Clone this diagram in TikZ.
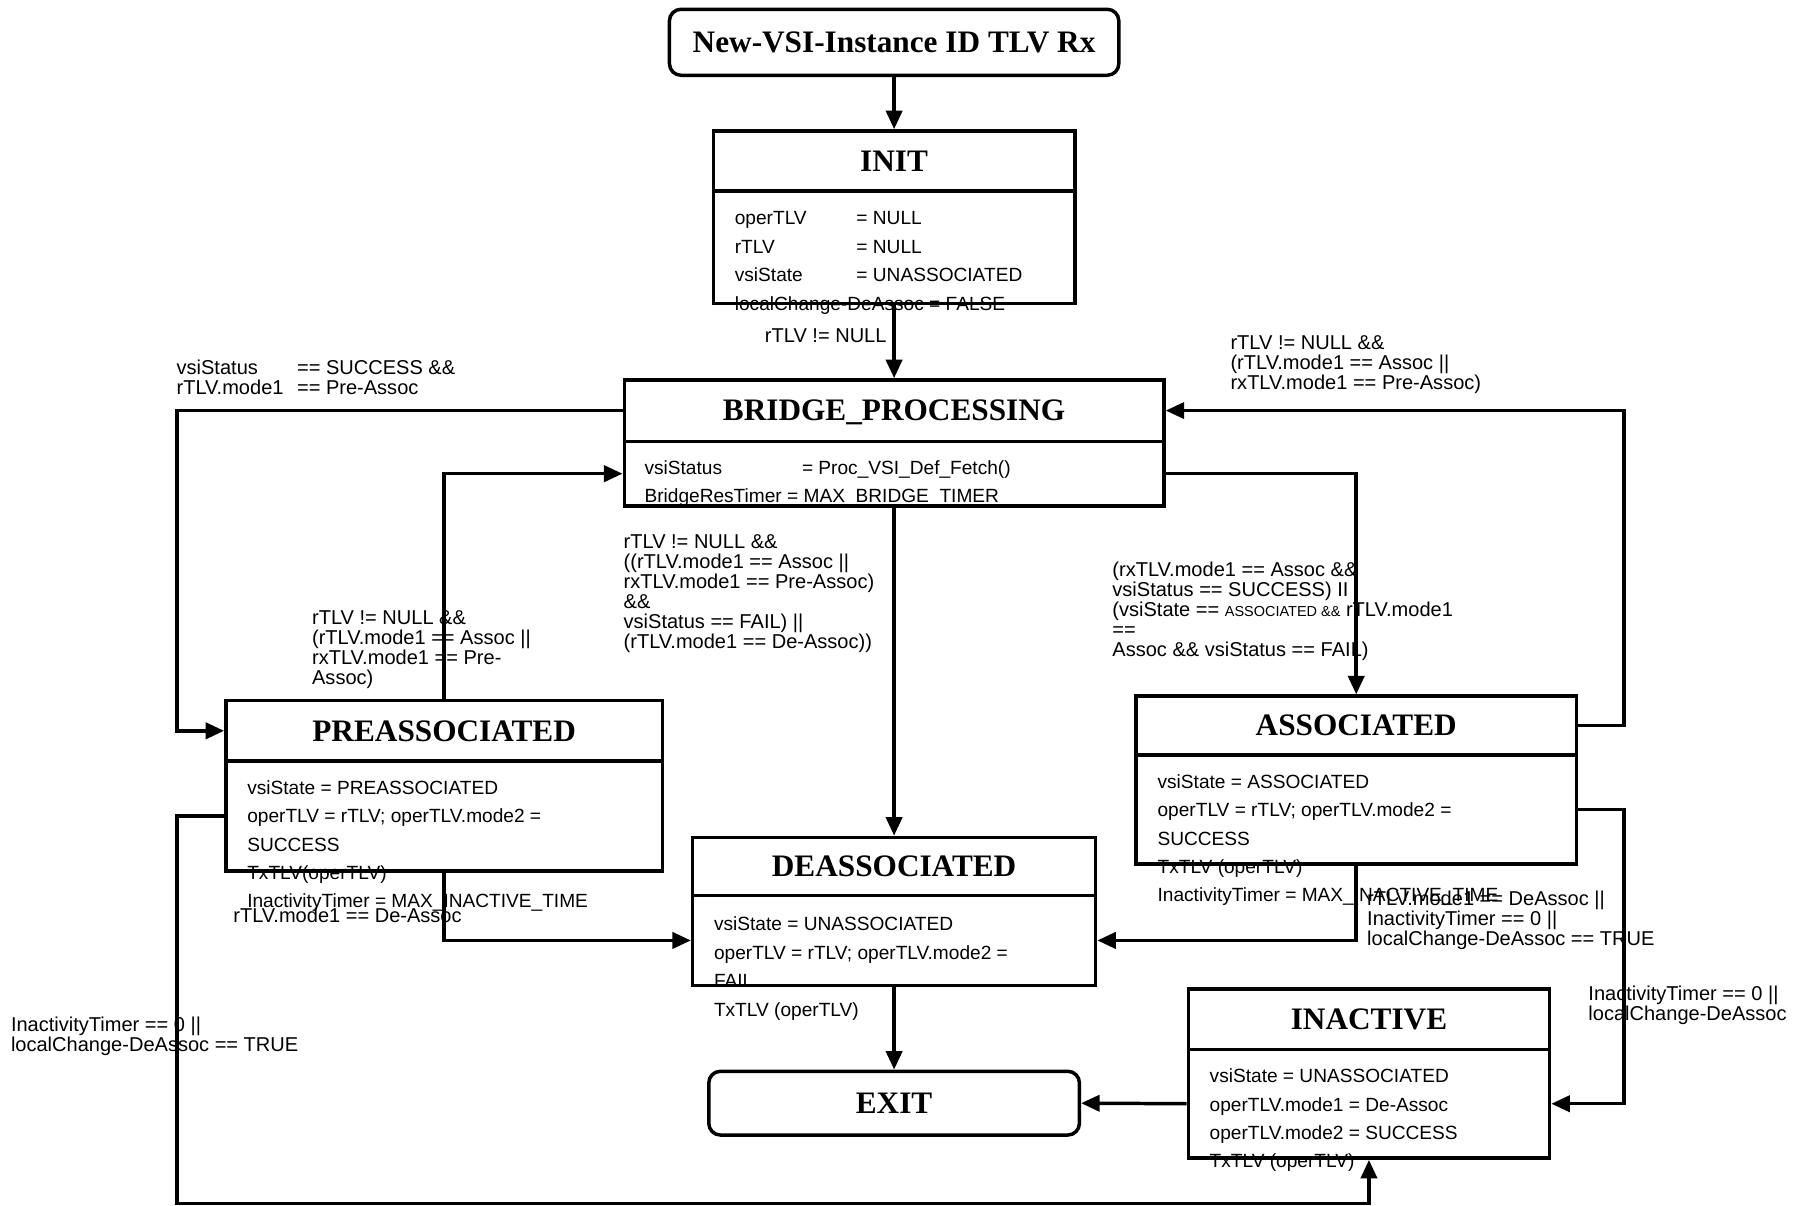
\documentclass[tikz,border=0pt]{standalone}
\usepackage{fontspec}
\setmainfont{Liberation Serif}
\setsansfont{Liberation Sans}
\usetikzlibrary{positioning,arrows.meta}
\newcommand{\pad}[2]{\makebox[#1][l]{#2}}

\begin{document}
\begin{tikzpicture}
	[x=1pt,y=-1pt,line width=3pt,
	every node/.style={inner sep=0pt},
	statebox/.style={draw,font=\fontsize{27}{27}\selectfont\bfseries,text depth=0pt},
	startbox/.style={statebox,rounded corners=10pt},
	vars/.style={anchor=north west,yshift=12.65pt,align=left,font=\sffamily\fontsize{16.5}{24.5}\selectfont,execute at begin node=\strut},
	guard/.style={anchor=north west,yshift=12.11pt,align=left,font=\sffamily\fontsize{17.3}{17.3}\selectfont,execute at begin node=\strut},
	trans/.style={draw,-{Triangle[length=16pt,width=14pt]}}]
	\useasboundingbox[fill=white] (0,0) rectangle (1568,1041);

	% states
	\node[startbox,minimum width=388pt,minimum height=57pt] (start) at (772,36.5) {New-VSI-Instance ID TLV Rx};
	\node[statebox,minimum width=312pt,minimum height=52pt] (init) at (772,139) {INIT};
	\node[draw,minimum width=312pt,minimum height=97pt,below=-3pt of init] (initbody) {};
	\node[statebox,minimum width=466pt,minimum height=53pt] (bridge) at (772,354.5) {BRIDGE\_PROCESSING};
	\node[draw,minimum width=466pt,minimum height=56pt,below=-3pt of bridge] (bridgebody) {};
	\node[statebox,minimum width=377pt,minimum height=52pt] (preassoc) at (383.5,631) {PREASSOCIATED};
	\node[draw,minimum width=377pt,minimum height=95pt,below=-3pt of preassoc] (preassocbody) {};
	\node[statebox,minimum width=380pt,minimum height=51pt] (assoc) at (1171,626.5) {ASSOCIATED};
	\node[draw,minimum width=380pt,minimum height=94pt,below=-3pt of assoc] (assocbody) {};
	\node[statebox,minimum width=348pt,minimum height=50pt] (deassoc) at (772,748) {DEASSOCIATED};
	\node[draw,minimum width=348pt,minimum height=78pt,below=-3pt of deassoc] (deassocbody) {};
	\node[statebox,minimum width=312pt,minimum height=52pt] (inactive) at (1182,880) {INACTIVE};
	\node[draw,minimum width=312pt,minimum height=94pt,below=-3pt of inactive] (inactivebody) {};
	\node[startbox,minimum width=320pt,minimum height=55pt] (exit) at (772,952.5) {EXIT};

	% state variables
	\node[vars] (initvars) at (633,194) {\pad{105pt}{operTLV}= NULL\\\pad{105pt}{rTLV}= NULL\\\pad{105pt}{vsiState}= UNASSOCIATED\\localChange-DeAssoc = FALSE};
	\node[vars] (bridgevars) at (555,409) {\pad{136pt}{vsiStatus}= Proc\_VSI\_Def\_Fetch()\\[-0.5pt]BridgeResTimer = MAX\_BRIDGE\_TIMER};
	\node[vars] (preassocvars) at (212,685) {vsiState = PREASSOCIATED\\operTLV = rTLV; operTLV.mode2 =\\SUCCESS\\TxTLV(operTLV)\\InactivityTimer = MAX\_INACTIVE\_TIME};
	\node[vars] (assocvars) at (998,680) {vsiState = ASSOCIATED\\operTLV = rTLV; operTLV.mode2 =\\SUCCESS\\TxTLV (operTLV)\\InactivityTimer = MAX\_INACTIVE\_TIME};
	\node[vars] (deassocvars) at (615,803) {vsiState = UNASSOCIATED\\operTLV = rTLV; operTLV.mode2 =\\FAIL\\TxTLV (operTLV)};
	\node[vars] (inactivevars) at (1043,934) {vsiState = UNASSOCIATED\\operTLV.mode1 = De-Assoc\\operTLV.mode2 = SUCCESS\\TxTLV (operTLV)};

	% transitions
	\coordinate (westrail) at (153,0);
	\coordinate (eastrail) at (1402,0);
	\coordinate (southrail) at (0,1039);
	\path
	(start) edge[trans] (init)
	(initbody) edge[trans] (bridge)
	(bridgebody) edge[trans] (deassoc)
	(deassocbody) edge[trans] (exit)
	(inactivebody.west) edge[trans] (exit.east);
	\draw[trans] (bridge.west) -- (bridge.west -| westrail) |- (preassoc.west);
	\draw[trans] (preassoc.north) |- (bridgebody.west);
	\draw[trans] (bridgebody.east) -| (assoc.north);
	\draw[trans] (assoc.east) -- (assoc.east -| eastrail) |- (bridge.east);
	\draw[trans] (preassocbody.south) |- (deassocbody.west);
	\draw[trans] (assocbody.south) |- (deassocbody.east);
	\draw[trans] (assocbody.east) -- (assocbody.east -| eastrail) |- (inactivebody.east);
	\draw[trans] (preassocbody.west) -| (westrail |- southrail) -| (inactivebody.south);

	% guards
	\node[guard] (initguard) at (659,294) {rTLV != NULL};
	\node[guard] (bridgeguard) at (151,321) {\pad{104pt}{vsiStatus}== SUCCESS \&\&\\\pad{104pt}{rTLV.mode1}== Pre-Assoc};
	\node[guard] (preassocguard) at (268,538) {rTLV != NULL \&\&\\(rTLV.mode1 == Assoc ||\\rxTLV.mode1 == Pre-\\Assoc)};
	\node[guard] (deassocguard) at (537,472) {rTLV != NULL \&\&\\((rTLV.mode1 == Assoc ||\\rxTLV.mode1 == Pre-Assoc)\\\&\&\\vsiStatus == FAIL) ||\\(rTLV.mode1 == De-Assoc))};
	\node[guard] (assocguard) at (959,496) {(rxTLV.mode1 == Assoc \&\&\\vsiStatus == SUCCESS) II\\(vsiState == {\fontsize{12.5}{17.3}\selectfont ASSOCIATED \&\&} rTLV.mode1\\==\\Assoc \&\& vsiStatus == FAIL)};
	\node[guard] (backguard) at (1061,300) {rTLV != NULL \&\&\\(rTLV.mode1 == Assoc ||\\rxTLV.mode1 == Pre-Assoc)};
	\node[guard] (preoutguard) at (200,795) {rTLV.mode1 == De-Assoc};
	\node[guard] (assocoutguard) at (1179,780) {rTLV.mode1 == DeAssoc ||\\InactivityTimer == 0 ||\\localChange-DeAssoc == TRUE};
	\node[guard] (timeoutguard) at (1370,862) {InactivityTimer == 0 ||\\localChange-DeAssoc};
	\node[guard] (pretimeoutguard) at (8,889) {InactivityTimer == 0 ||\\localChange-DeAssoc == TRUE};
\end{tikzpicture}
\end{document}
